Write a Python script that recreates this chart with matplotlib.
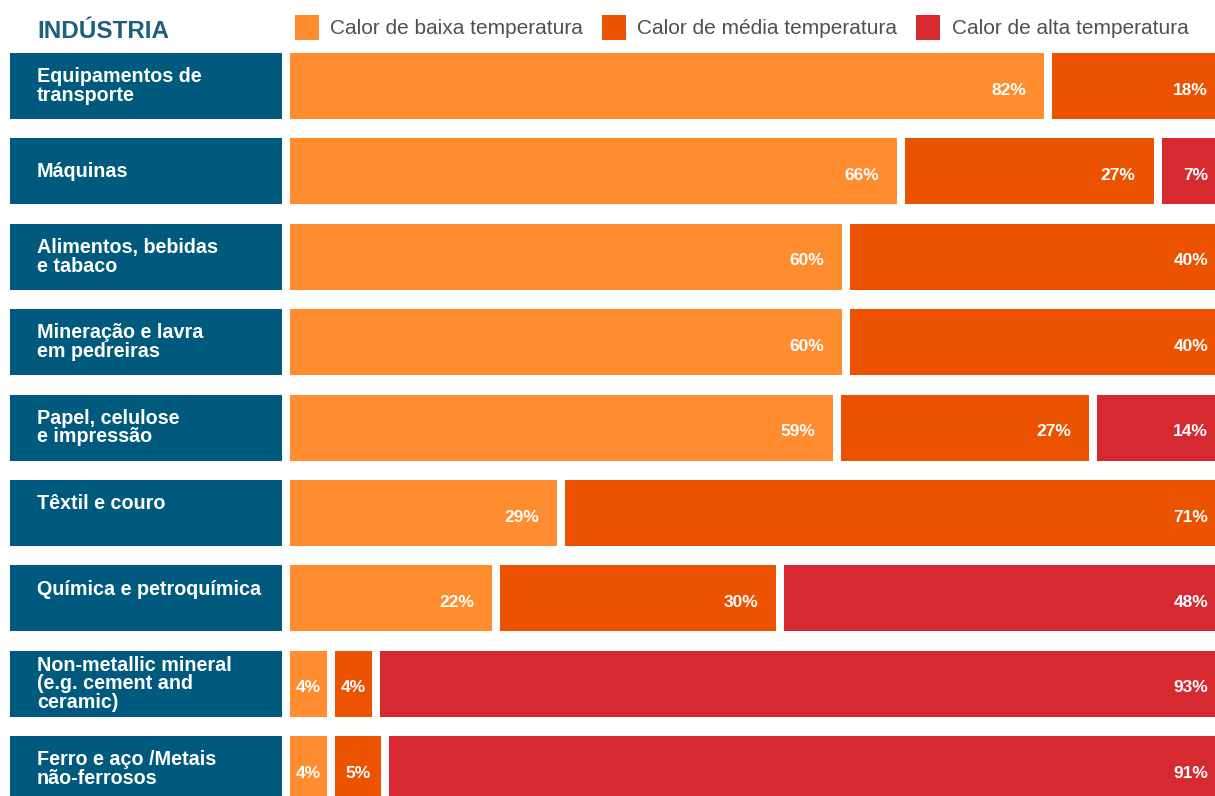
import matplotlib.pyplot as plt
from matplotlib.patches import Patch
import matplotlib.transforms as mtransforms

plt.rcParams['font.family'] = ['Liberation Sans', 'DejaVu Sans']

# data
categories = ["Equipamentos de\ntransporte", "Máquinas", "Alimentos, bebidas\ne tabaco",
              "Mineração e lavra\nem pedreiras", "Papel, celulose\ne impressão",
              "Têxtil e couro\n", "Química e petroquímica\n",
              "Non-metallic mineral\n(e.g. cement and\nceramic)", "Ferro e aço /Metais\nnão-ferrosos"]
baixa = [82, 66, 60, 60, 59, 29, 22, 4, 4]
media = [18, 27, 40, 40, 27, 71, 30, 4, 5]
alta = [0, 7, 0, 0, 14, 0, 48, 93, 91]
series_names = ["Calor de baixa temperatura", "Calor de média temperatura", "Calor de alta temperatura"]
colors = ["#FF8C2E", "#EC5300", "#D62A30"]
box_color = "#005A7D"

W, H = 1215, 796
fig = plt.figure(figsize=(W / 100, H / 100), dpi=100)

# row geometry (pixels)
pitch = 85.4
first_center = 86
bar_h = 66 / pitch
ylim = ((H - first_center) / pitch, -first_center / pitch)

# left label boxes
axl = fig.add_axes([10 / W, 0, 272 / W, 1])
axl.set_xlim(0, 1)
axl.set_ylim(*ylim)
axl.axis('off')
rows = list(range(len(categories)))
axl.barh(rows, [1] * len(rows), height=bar_h, color=box_color)
for i, lab in enumerate(categories):
    axl.text(27 / 272, i, lab, color='white', fontsize=14.2, fontweight='bold',
             va='center', ha='left', linespacing=0.98)

# stacked bars with gaps
px_per = 9.2
gap = 8 / px_per
axb = fig.add_axes([290 / W, 0, 925 / W, 1])
axb.set_xlim(0, 925 / px_per)
axb.set_ylim(*ylim)
axb.axis('off')
xmax = 925 / px_per
down = mtransforms.offset_copy(axb.transData, fig=fig, x=0, y=-4, units='dots')

for i in rows:
    left = 0
    for vals, c in zip([baixa, media, alta], colors):
        v = vals[i]
        if v == 0:
            continue
        axb.barh(i, v, left=left, height=bar_h, color=c, edgecolor='none')
        right = min(left + v, xmax)
        if v < 7:
            axb.text(left + v / 2, i, f"{v}%", transform=down, color='white',
                     fontsize=12.5, fontweight='bold', ha='center', va='center')
        else:
            tx = right - (7 / px_per if right >= xmax else 18 / px_per)
            axb.text(tx, i, f"{v}%", transform=down, color='white',
                     fontsize=12.5, fontweight='bold', ha='right', va='center')
        left += v + gap

# header
fig.text(37 / W, 1 - 31 / H, "INDÚSTRIA", color="#1E5E7E", fontsize=17.5,
         fontweight='bold', va='center', ha='left')

# legend
handles = [Patch(facecolor=c, edgecolor='none') for c in colors]
fig.legend(handles, series_names, loc='upper left', bbox_to_anchor=(295 / W, 1 - 15 / H),
           ncol=3, frameon=False, fontsize=15, labelcolor='#505050',
           handlelength=1.15, handleheight=1.45, handletextpad=0.55,
           columnspacing=0.9, borderpad=0, borderaxespad=0)

fig.savefig("out.png", dpi=100)
